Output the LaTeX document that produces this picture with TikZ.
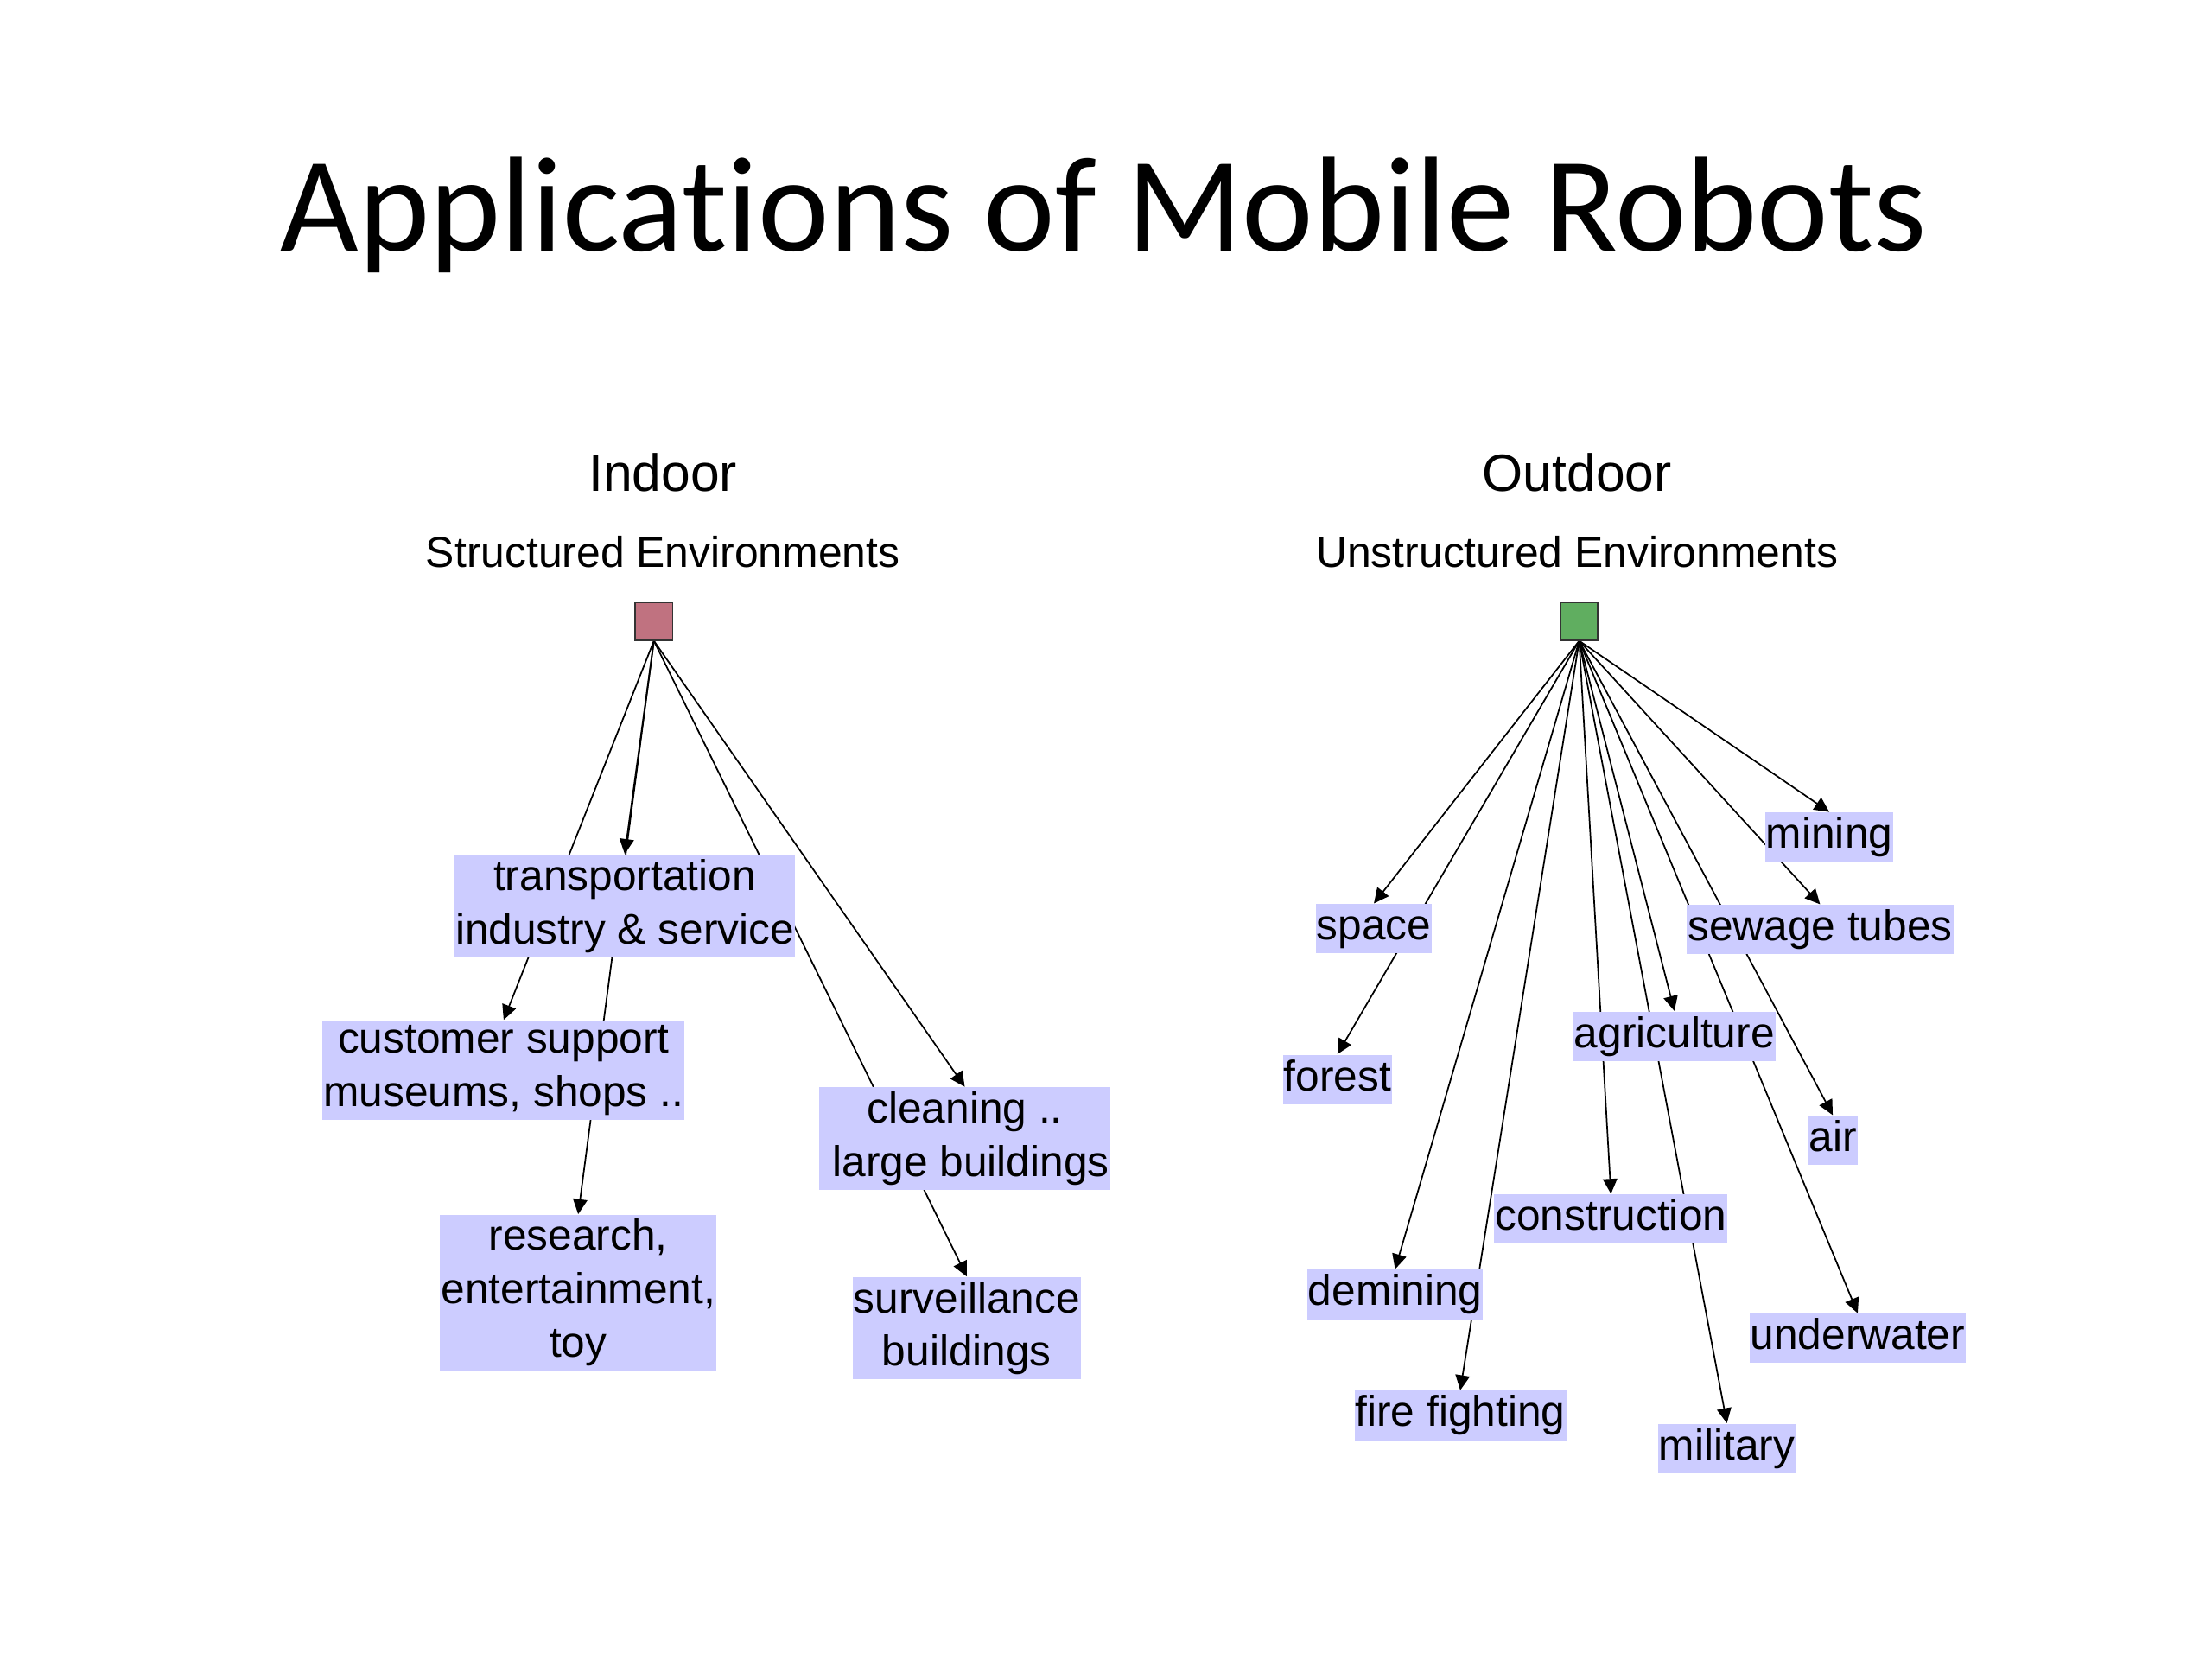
\documentclass[tikz,border=0pt]{standalone}
\usepackage{fontspec}
\setmainfont{Liberation Sans}
\newfontfamily\titlefont{Carlito}[Ligatures=NoCommon]
\usetikzlibrary{arrows.meta,backgrounds}
\definecolor{MyBox}{RGB}{204,204,255}
\definecolor{MyIn}{RGB}{192,114,128}
\definecolor{MyOut}{RGB}{96,174,96}
\tikzset{
    app/.style={
      rectangle,
      fill=MyBox,
      inner xsep=0.3pt,
      inner ysep=1.5pt,
      align=center,
      font=\fontsize{14.35}{17.9}\selectfont
    },
    leaf/.style={app, text height=10.5pt, text depth=3pt},
    root/.style={rectangle, draw=black!80, line width=0.5pt, minimum size=0.44cm, inner sep=0pt},
    link/.style={-{Triangle[length=5pt,width=4.8pt]}, line width=0.5pt},
    head/.style={anchor=base, font=\fontsize{17.5}{20}\selectfont},
    sub/.style={anchor=base, font=\fontsize{14.4}{18}\selectfont},
}

\begin{document}
\begin{tikzpicture}

    \useasboundingbox (0,0) rectangle (26,19.5);

    \node[anchor=base, font=\titlefont\fontsize{45.2}{50}\selectfont] at (12.975,16.545) (title) {Applications of Mobile Robots};

    % indoor
    \begin{scope}
      \node[head] at (7.791,13.729) (indoor) {Indoor};
      \node[sub] at (7.791,12.834) (structured) {Structured Environments};
      \node[root, fill=MyIn] at (7.686,12.197) (inroot) {};

      \node[app] at (7.343,8.853) (trans) {transportation\\industry \& service};
      \node[app] at (5.920,6.923) (cust) {customer support\\museums, shops ..};
      \node[app] at (6.796,4.306) (research) {research,\\entertainment,\\toy};
      \node[app] at (11.340,6.117) (clean) {cleaning ..\\\hspace*{0.28em}large buildings};
      \node[app] at (11.363,3.888) (surv) {surveillance\\buildings};
    \end{scope}

    % outdoor
    \begin{scope}
      \node[head] at (18.537,13.729) (outdoor) {Outdoor};
      \node[sub] at (18.537,12.834) (unstructured) {Unstructured Environments};
      \node[root, fill=MyOut] at (18.562,12.197) (outroot) {};

      \node[leaf] at (21.502,9.660) (mining) {mining};
      \node[leaf] at (21.393,8.575) (sewage) {sewage tubes};
      \node[leaf] at (16.149,8.585) (space) {space};
      \node[leaf] at (15.721,6.814) (forest) {forest};
      \node[leaf] at (19.681,7.321) (agri) {agriculture};
      \node[leaf] at (21.542,6.097) (air) {air};
      \node[leaf] at (18.935,5.172) (constr) {construction};
      \node[leaf] at (16.398,4.286) (demining) {demining};
      \node[leaf] at (21.835,3.769) (underwater) {underwater};
      \node[leaf] at (17.164,2.864) (fire) {fire fighting};
      \node[leaf] at (20.298,2.476) (military) {military};
    \end{scope}

    \begin{scope}[on background layer]
      \fill[white] (0,0) rectangle (26,19.5);
      \foreach \t in {trans,cust,research,clean,surv} {
        \draw[link] (inroot.south) -- (\t.north);
      }
      \foreach \t in {mining,sewage,space,forest,agri,air,constr,demining,underwater,fire,military} {
        \draw[link] (outroot.south) -- (\t.north);
      }
    \end{scope}

\end{tikzpicture}
\end{document}
